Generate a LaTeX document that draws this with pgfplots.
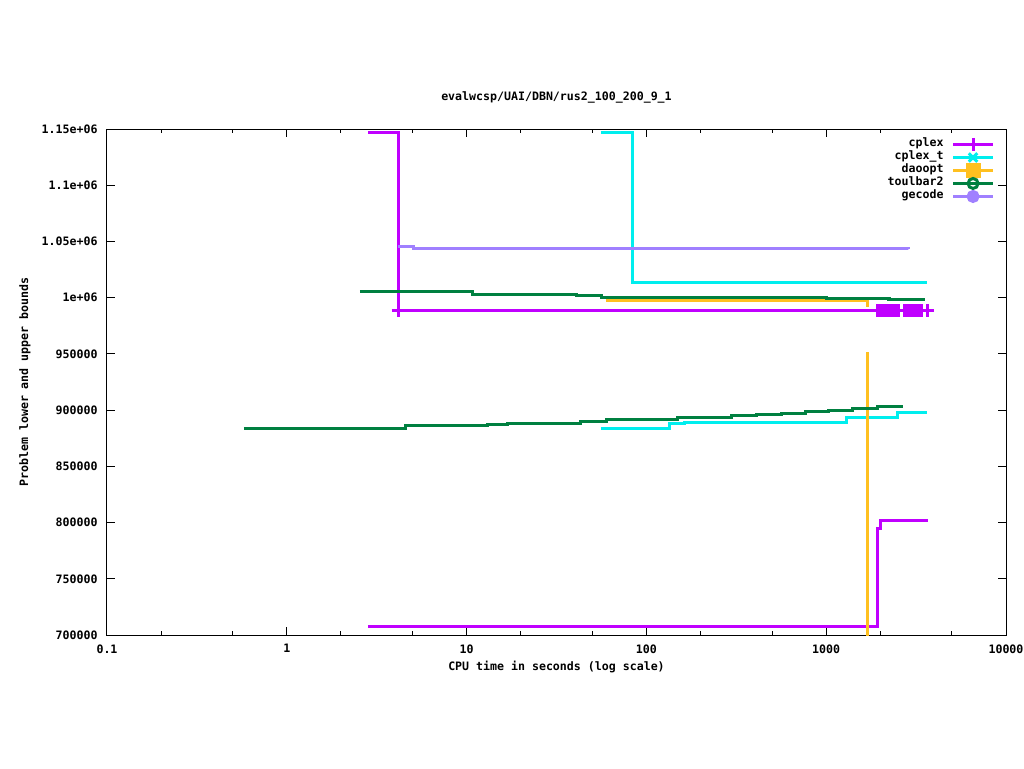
\documentclass[border=0pt]{standalone}
\usepackage{fontspec}
\setmainfont{DejaVu Sans Mono}
\usepackage{pgfplots}
\pgfplotsset{compat=1.18}

\definecolor{cplexc}{HTML}{C000FF}
\definecolor{cplextc}{HTML}{00EEEE}
\definecolor{daooptc}{HTML}{FFC020}
\definecolor{toulbarc}{HTML}{008040}
\definecolor{gecodec}{HTML}{A080FF}
\newcommand{\gpfont}{\bfseries\fontsize{5.8}{6.5}\selectfont}

\begin{document}
\begin{tikzpicture}
\path[use as bounding box] (0,0) rectangle (512pt,384pt);
\begin{axis}[
  at={(53.5pt,66.5pt)}, anchor=south west,
  scale only axis, width=449.5pt, height=253pt,
  xmode=log, xmin=0.1, xmax=10000,
  ymin=700000, ymax=1150000,
  xtick={0.1,1,10,100,1000,10000},
  xticklabels={0.1,1,10,100,1000,10000},
  minor xtick={0.2,0.5,2,5,20,50,200,500,2000,5000},
  ytick={700000,750000,800000,850000,900000,950000,1000000,1050000,1100000,1150000},
  yticklabels={700000,750000,800000,850000,900000,950000,1e+06,1.05e+06,1.1e+06,1.15e+06},
  scaled y ticks=false,
  tick align=inside, major tick length=4pt, minor tick length=2pt,
  axis line style={line width=0.5pt},
  every tick/.style={black, line width=0.5pt},
  tick label style={font=\gpfont, inner sep=0pt},
  xticklabel style={yshift=-4.5pt},
  yticklabel style={xshift=-4.5pt},
  label style={font=\gpfont},
  title style={font=\gpfont},
  title={evalwcsp/UAI/DBN/rus2\_100\_200\_9\_1},
  title style={at={(axis description cs:0.5,1.0395)}, anchor=center, inner sep=0pt},
  xlabel={CPU time in seconds (log scale)},
  xlabel style={at={(axis description cs:0.5,-0.0632)}, anchor=center, inner sep=0pt},
  ylabel={Problem lower and upper bounds},
  ylabel style={at={(axis description cs:-0.0912,0.5)}, anchor=center, inner sep=0pt},
  legend style={draw=none, fill=none, font=\gpfont,
    at={(axis description cs:0.9944,0.991)}, anchor=north east,
    row sep=0pt, column sep=4pt,
    nodes={inner sep=0pt, text height=4.5pt, text depth=2pt}},
  legend cell align=right,
  legend plot pos=right,
  legend image code/.code={
    \draw[mark repeat=2,mark phase=2] plot coordinates {(0pt,0pt) (10pt,0pt) (20pt,0pt)};
  },
]
% legend entries
\addlegendimage{cplexc, line width=1.5pt, mark=+, mark size=3.25pt}
\addlegendentry{cplex}
\addlegendimage{cplextc, line width=1.5pt, mark=x, mark size=3pt}
\addlegendentry{cplex\_t}
\addlegendimage{daooptc, line width=1.5pt, mark=square*, mark size=3pt}
\addlegendentry{daoopt}
\addlegendimage{toulbarc, line width=1.5pt, mark=o, mark size=2.5pt}
\addlegendentry{toulbar2}
\addlegendimage{gecodec, line width=1.5pt, mark=*, mark size=2.5pt}
\addlegendentry{gecode}

% cplex
\addplot[cplexc, line width=1.5pt, const plot, no marks, forget plot] coordinates {
  (2.83,1147100) (4.155,988400) (3683,988400)};
\addplot[cplexc, line width=1.5pt, const plot, no marks, forget plot] coordinates {
  (2.83,708000) (1941,794300) (2017,801400) (3636,803200)};
\addplot[cplexc, only marks, mark=+, mark size=3.25pt, line width=1.5pt, forget plot] coordinates {
  (4.155,988400)
  (1917,988400) (1967,988400) (2017,988400) (2070,988400) (2123,988400)
  (2178,988400) (2235,988400) (2293,988400) (2352,988400) (2413,988400)
  (2476,988400) (2540,988400)
  (2743,988400) (2814,988400) (2887,988400) (2962,988400) (3039,988400)
  (3117,988400) (3198,988400) (3281,988400) (3366,988400) (3410,988400)
  (3683,988400)};

% cplex_t
\addplot[cplextc, line width=1.5pt, const plot, no marks, forget plot] coordinates {
  (55.9,1147100) (83.2,1013900) (3636,1013900)};
\addplot[cplextc, line width=1.5pt, const plot, no marks, forget plot] coordinates {
  (55.9,883800) (133.6,887900) (163.9,889200) (1305,893600) (2508,897700) (3636,897700)};

% daoopt
\addplot[daooptc, line width=1.5pt, const plot, no marks, forget plot] coordinates {
  (59.7,997900) (1687,992000)};
\addplot[daooptc, line width=1.5pt, no marks, forget plot] coordinates {
  (1687,690000) (1687,951700)};

% toulbar2
\addplot[toulbarc, line width=1.5pt, const plot, no marks, forget plot] coordinates {
  (2.55,1005700) (10.85,1003000) (41.1,1001800) (56.6,1000300)
  (997.5,999400) (2235,998600) (3544,998600)};
\addplot[toulbarc, line width=1.5pt, const plot, no marks, forget plot] coordinates {
  (0.578,883800) (4.544,885900) (12.99,887000) (16.78,887900) (24.01,888500)
  (42.73,890300) (60.38,891500) (86.42,892100) (148.0,893600) (295.5,895000)
  (412.2,896500) (560.6,897400) (762.4,899200) (1036.5,900100) (1409.5,901000)
  (1917,902800) (2674,902800)};

% gecode
\addplot[gecodec, line width=1.5pt, const plot, no marks, forget plot] coordinates {
  (4.155,1045100) (5.034,1043900) (2851,1043300)};
\end{axis}
\end{tikzpicture}
\end{document}
